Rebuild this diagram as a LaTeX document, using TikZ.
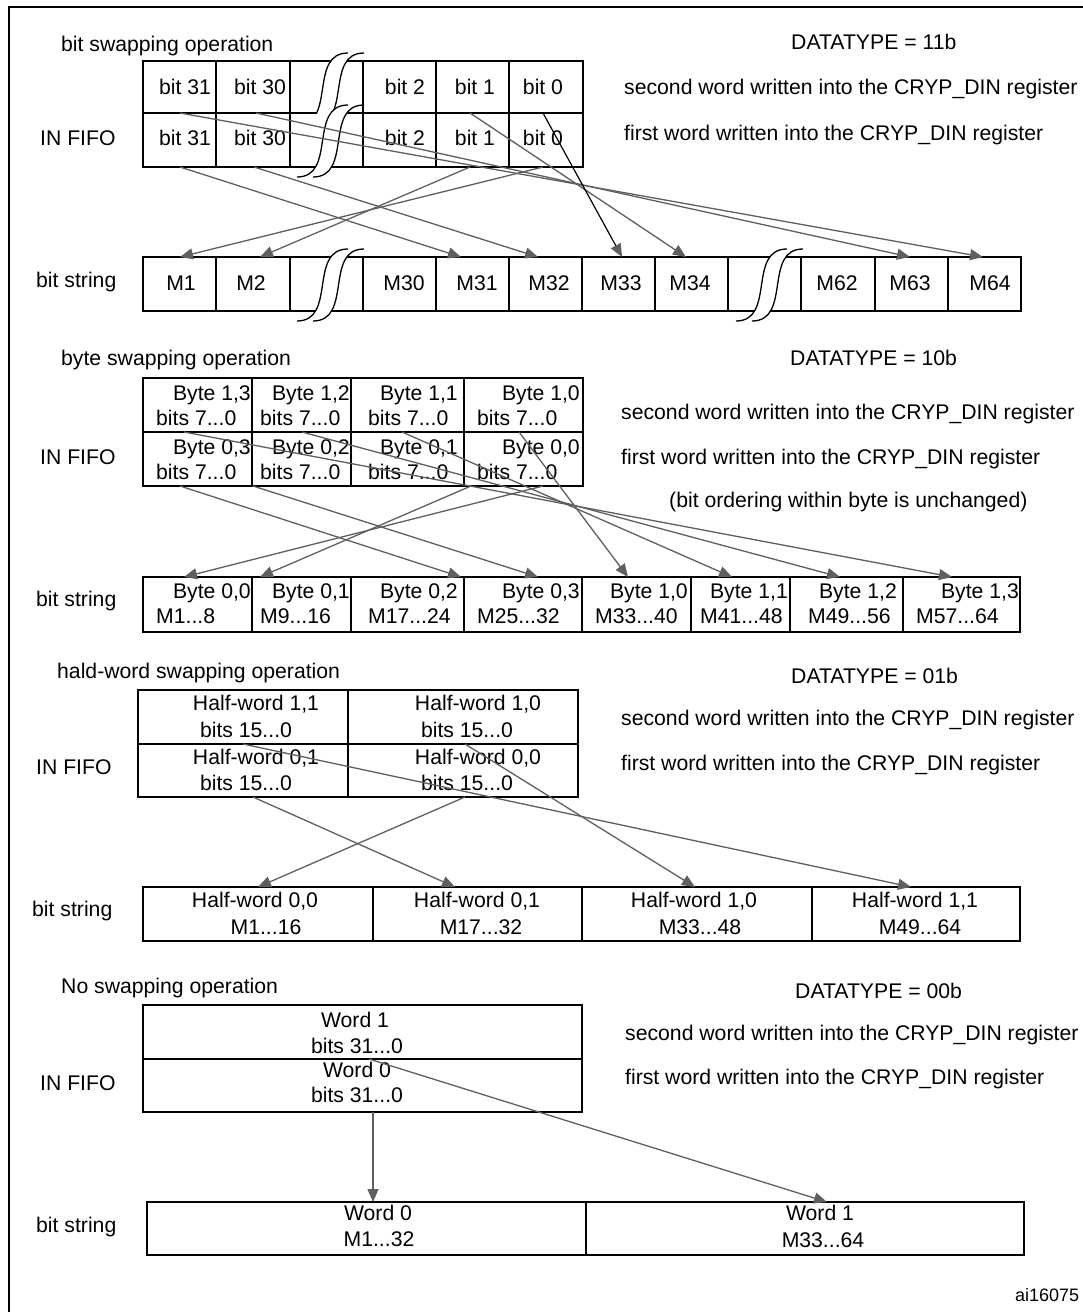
\documentclass[tikz,border=0pt]{standalone}
\usepackage{fontspec}
\setmainfont{Liberation Sans}
\usetikzlibrary{arrows.meta,fit}
\newcommand\mfs{\fontsize{21.2}{25}\selectfont}
\newcommand\sfs{\fontsize{18}{22}\selectfont}
\definecolor{agray}{RGB}{95,95,95}
\tikzset{
  txt/.style={inner sep=0pt, text height=15pt, text depth=0pt, font=\mfs},
  lbl/.style={txt, anchor=west},
  cellbox/.style={draw=black, line width=2pt, inner sep=0pt, rectangle},
  conn/.style={draw=agray, line width=1.3pt, -{Triangle[length=13pt,width=11pt,color=agray]}},
  brkline/.style={draw=black, line width=1.3pt},
}
% cell: name, x1, y1, x2, y2
\newcommand\mkcell[5]{%
  \coordinate (#1-nw) at (#2,#3);
  \coordinate (#1-se) at (#4,#5);
  \node[cellbox, fit=(#1-nw)(#1-se)] (#1) {};}
% connector: [opts] name, x1, y1, x2, y2
\newcommand\arr[6][]{%
  \coordinate (#2s) at (#3,#4);
  \coordinate (#2e) at (#5,#6);
  \draw[conn,#1] (#2s) -- (#2e);}
% two-line text: name, x right, y1, text1, x left, y2, text2
\newcommand\btxt[7]{%
  \node[txt,anchor=east] (#1a) at (#2,#3) {#4};
  \node[txt,anchor=west] (#1b) at (#5,#6) {#7};}
% break mark at x0 (bottom start), y0 (bottom)
\newcommand\brk[2]{%
  \fill[white] (#1,#2) .. controls ({#1+40},#2) and ({#1+11},{#2-72}) .. ({#1+51},{#2-72})
     -- ({#1+67},{#2-72}) .. controls ({#1+27},{#2-72}) and ({#1+56},#2) .. ({#1+16},#2) -- cycle;
  \draw[brkline] (#1,#2) .. controls ({#1+40},#2) and ({#1+11},{#2-72}) .. ({#1+51},{#2-72});
  \draw[brkline] ({#1+16},#2) .. controls ({#1+56},#2) and ({#1+27},{#2-72}) .. ({#1+67},{#2-72});}
\begin{document}
\begin{tikzpicture}[x=1pt,y=-1pt]
\useasboundingbox (0,0) rectangle (1083,1312);
\fill[white] (0,0) rectangle (1083,1312);
\draw[line width=2.5pt] (9,1312) -- (9,7) -- (1083,7);

%================ Section 1 : bit swapping
\node[lbl] (s1title) at (61,44) {bit swapping operation};
\node[lbl] (s1dt) at (791,42) {DATATYPE = 11b};
\node[lbl] (s1sec) at (624,87) {second word written into the CRYP\_DIN register};
\node[lbl] (s1fir) at (624,133) {first word written into the CRYP\_DIN register};
\node[lbl] (s1fifo) at (40,138) {IN FIFO};
\node[lbl] (s1bs) at (36,280) {bit string};

\foreach \xa/\xb [count=\i] in {143/215.5,215.5/290,290/362.5,362.5/436,436/509,509/582.5}{
  \mkcell{s1r1c\i}{\xa}{61}{\xb}{113}
  \mkcell{s1r2c\i}{\xa}{113}{\xb}{167}
}
\foreach \xa/\xb [count=\i] in {143/215.5,215.5/290,290/362.5,362.5/436,436/509,509/582,582/655,655/728,728/801,801/875,875/948,948/1021}{
  \mkcell{s1m\i}{\xa}{257}{\xb}{311}
}
\begin{scope}
  \clip (280,40) rectangle (380,113);
  \brk{297}{125}
\end{scope}
\brk{297}{177}
\brk{297}{321}
\brk{736}{321}

\foreach \x/\t [count=\i] in {185/bit 31,260/bit 30,405/bit 2,475/bit 1,543/bit 0}{
  \node[txt] (s1ta\i) at (\x,87) {\t};
  \node[txt] (s1tb\i) at (\x,138) {\t};
}
\foreach \x/\t [count=\i] in {181/M1,251/M2,404/M30,477/M31,549/M32,621/M33,690/M34,837/M62,910/M63,990/M64}{
  \node[txt] (s1tm\i) at (\x,283) {\t};
}
\arr{s1a}{180}{167}{461}{257}
\arr{s1b}{254}{167}{538}{257}
\arr{s1c}{470}{167}{260}{257}
\arr{s1d}{543}{167}{180}{257}
\arr{s1e}{180}{113}{983}{257}
\arr{s1f}{256}{113}{910}{257}
\arr{s1g}{470}{113}{686}{257}
\arr[draw=black,line width=1.2pt]{s1h}{543}{113}{622}{257}

%================ Section 2 : byte swapping
\node[lbl] (s2title) at (61,358) {byte swapping operation};
\node[lbl] (s2dt) at (790,358) {DATATYPE = 10b};
\node[lbl] (s2sec) at (621,412) {second word written into the CRYP\_DIN register};
\node[lbl] (s2fir) at (621,457) {first word written into the CRYP\_DIN register};
\node[lbl] (s2note) at (669,500) {(bit ordering within byte is unchanged)};
\node[lbl] (s2fifo) at (40,457) {IN FIFO};
\node[lbl] (s2bs) at (36,599) {bit string};

\foreach \xa/\xb [count=\i] in {143/252,252/351,351/464,464/582.5}{
  \mkcell{s2r1c\i}{\xa}{378}{\xb}{432}
  \mkcell{s2r2c\i}{\xa}{432}{\xb}{486}
}
\foreach \xa/\xb [count=\i] in {143/252,252/351,351/464,464/582,582/691,691/790,790/903,903/1020}{
  \mkcell{s2m\i}{\xa}{577}{\xb}{632}
}
\btxt{s2t1}{251}{393}{Byte 1,3}{156}{418}{bits 7...0}
\btxt{s2t2}{350}{393}{Byte 1,2}{260}{418}{bits 7...0}
\btxt{s2t3}{458}{393}{Byte 1,1}{368}{418}{bits 7...0}
\btxt{s2t4}{580}{393}{Byte 1,0}{477}{418}{bits 7...0}
\btxt{s2t5}{251}{447}{Byte 0,3}{156}{472}{bits 7...0}
\btxt{s2t6}{350}{447}{Byte 0,2}{260}{472}{bits 7...0}
\btxt{s2t7}{458}{447}{Byte 0,1}{368}{472}{bits 7...0}
\btxt{s2t8}{580}{447}{Byte 0,0}{477}{472}{bits 7...0}

\btxt{s2m1t}{251}{591}{Byte 0,0}{156}{616}{M1...8}
\btxt{s2m2t}{350}{591}{Byte 0,1}{260}{616}{M9...16}
\btxt{s2m3t}{458}{591}{Byte 0,2}{368}{616}{M17...24}
\btxt{s2m4t}{580}{591}{Byte 0,3}{477}{616}{M25...32}
\btxt{s2m5t}{688}{591}{Byte 1,0}{595}{616}{M33...40}
\btxt{s2m6t}{788}{591}{Byte 1,1}{700}{616}{M41...48}
\btxt{s2m7t}{897}{591}{Byte 1,2}{808}{616}{M49...56}
\btxt{s2m8t}{1019}{591}{Byte 1,3}{916}{616}{M57...64}

\arr{s2a}{180}{486}{461}{577}
\arr{s2b}{253}{486}{538}{577}
\arr{s2c}{471}{486}{260}{577}
\arr{s2d}{543}{486}{184}{577}
\arr{s2e}{184}{432}{952}{577}
\arr{s2f}{302}{432}{840}{577}
\arr{s2g}{402}{432}{732}{577}
\arr{s2h}{519}{432}{628}{577}

%================ Section 3 : half-word swapping
\node[lbl] (s3title) at (57,671) {hald-word swapping operation};
\node[lbl] (s3dt) at (791,676) {DATATYPE = 01b};
\node[lbl] (s3sec) at (621,718) {second word written into the CRYP\_DIN register};
\node[lbl] (s3fir) at (621,763) {first word written into the CRYP\_DIN register};
\node[lbl] (s3fifo) at (36,767) {IN FIFO};
\node[lbl] (s3bs) at (32,909) {bit string};

\mkcell{s3r1c1}{138}{690}{348}{744}
\mkcell{s3r1c2}{348}{690}{578}{744}
\mkcell{s3r2c1}{138}{744}{348}{797}
\mkcell{s3r2c2}{348}{744}{578}{797}
\node[txt] (s3t1) at (256,703) {Half-word 1,1};
\node[txt] (s3t2) at (246,730) {bits 15...0};
\node[txt] (s3t3) at (478,703) {Half-word 1,0};
\node[txt] (s3t4) at (467,730) {bits 15...0};
\node[txt] (s3t5) at (256,757) {Half-word 0,1};
\node[txt] (s3t6) at (246,783) {bits 15...0};
\node[txt] (s3t7) at (478,757) {Half-word 0,0};
\node[txt] (s3t8) at (467,783) {bits 15...0};

\foreach \xa/\xb [count=\i] in {143/373,373/582,582/811.5,811.5/1020}{
  \mkcell{s3m\i}{\xa}{887}{\xb}{941}
}
\node[txt] (s3m1a) at (255,900) {Half-word 0,0};
\node[txt] (s3m1b) at (266,927) {M1...16};
\node[txt] (s3m2a) at (477,900) {Half-word 0,1};
\node[txt] (s3m2b) at (481,927) {M17...32};
\node[txt] (s3m3a) at (694,900) {Half-word 1,0};
\node[txt] (s3m3b) at (700,927) {M33...48};
\node[txt] (s3m4a) at (915,900) {Half-word 1,1};
\node[txt] (s3m4b) at (920,927) {M49...64};

\arr{s3a}{253}{797}{455}{887}
\arr{s3b}{465}{797}{258}{887}
\arr{s3c}{243}{744}{911}{887}
\arr{s3d}{465}{744}{695}{887}

%================ Section 4 : no swapping
\node[lbl] (s4title) at (61,986) {No swapping operation};
\node[lbl] (s4dt) at (795,991) {DATATYPE = 00b};
\node[lbl] (s4sec) at (625,1033) {second word written into the CRYP\_DIN register};
\node[lbl] (s4fir) at (625,1077) {first word written into the CRYP\_DIN register};
\node[lbl] (s4fifo) at (40,1083) {IN FIFO};
\node[lbl] (s4bs) at (36,1225) {bit string};

\mkcell{s4r1}{143}{1005}{582}{1059}
\mkcell{s4r2}{143}{1059}{582}{1112}
\node[txt] (s4t1) at (355,1020) {Word 1};
\node[txt] (s4t2) at (357,1046) {bits 31...0};
\node[txt] (s4t3) at (357,1070) {Word 0};
\node[txt] (s4t4) at (357,1095) {bits 31...0};

\mkcell{s4m1}{147}{1202}{586}{1255}
\mkcell{s4m2}{586}{1202}{1024}{1255}
\node[txt] (s4m1a) at (378,1213) {Word 0};
\node[txt] (s4m1b) at (379,1239) {M1...32};
\node[txt] (s4m2a) at (820,1213) {Word 1};
\node[txt] (s4m2b) at (823,1240) {M33...64};

\arr{s4a}{373}{1112}{373}{1202}
\arr{s4b}{369}{1059}{827}{1202}

\node[txt, font=\sfs, text height=13pt, anchor=west] (ai) at (1015,1295) {ai16075};
\end{tikzpicture}
\end{document}
